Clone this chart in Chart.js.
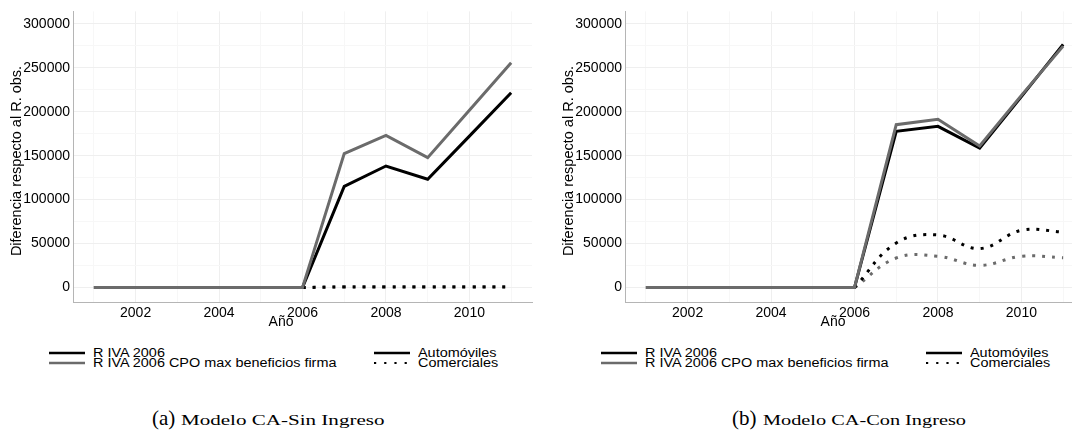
<!DOCTYPE html>
<html>
<head>
<meta charset="utf-8">
<script src="https://cdn.jsdelivr.net/npm/chart.js@4.4.1/dist/chart.umd.min.js"></script>
<style>
  html, body { margin: 0; padding: 0; background: #fff; }
  body { width: 1072px; height: 434px; overflow: hidden; position: relative; font-family: 'Liberation Sans', Arial, sans-serif; }
  .panel { position: absolute; top: 0; width: 540px; height: 330px; }
  .leg { position: absolute; font-size: 12px; line-height: 12px; white-space: nowrap; transform-origin: 0 0; color: #000; }
  .cap { position: absolute; top: 406px; white-space: nowrap; font-family: 'Liberation Serif', 'Times New Roman', serif; line-height: 24px; color: #000; }
  .cap .big { font-size: 21px; }
  .cap .small { display: inline-block; font-size: 14px; transform-origin: 0 50%; margin-left: 6px; }
  svg.key { position: absolute; overflow: visible; }
</style>
</head>
<body>
<div class="panel" id="panelA" style="left:0px"><canvas id="chartA" width="540" height="330"></canvas></div>
<div class="panel" id="panelB" style="left:552px"><canvas id="chartB" width="540" height="330"></canvas></div>

<script>
// ─── Data ─────────────────────────────────────────────────

const years = [2001, 2002, 2003, 2004, 2005, 2006, 2007, 2008, 2009, 2010, 2011];
const xTickLabels = [2002, 2004, 2006, 2008, 2010];
const yTickLabels = [0, 50000, 100000, 150000, 200000, 250000, 300000];

const seriesNames = ['R IVA 2006', 'R IVA 2006 CPO max beneficios firma'];
const typeNames = ['Automóviles', 'Comerciales'];

// (a) Modelo CA-Sin Ingreso
const aAutoRiva = [0, 0, 0, 0, 0, 0, 115100, 138200, 123100, 172200, 221600];
const aAutoCpo  = [0, 0, 0, 0, 0, 0, 152300, 173100, 147700, 201500, 255700];
const aComRiva  = [null, null, null, null, null, 0, 700, 700, 700, 700, 700];
const aComCpo   = [null, null, null, null, null, 0, 900, 900, 900, 900, 900];

// (b) Modelo CA-Con Ingreso
const bAutoRiva = [0, 0, 0, 0, 0, 0, 177600, 183300, 158600, 217100, 276500];
const bAutoCpo  = [0, 0, 0, 0, 0, 0, 185200, 191300, 160900, 218500, 274500];
const bComRiva  = [null, null, null, null, null, 0, 50700, 59800, 44300, 65100, 63200];
const bComCpo   = [null, null, null, null, null, 0, 33600, 35600, 25300, 35600, 34000];

const captions = [['(a)', 'Modelo CA-Sin Ingreso'], ['(b)', 'Modelo CA-Con Ingreso']];

// grid lines: every labelled tick plus the minor line half way between
const yGrid = yTickLabels.flatMap((v, i) => i ? [v - 25000, v] : [v]);
const xGrid = years;

// ─── Style ────────────────────────────────────────────────

const BLACK = '#000000';
const GRAY = '#6b6b6b';
const FONT = "'Liberation Sans', Arial, sans-serif";

const axisTitles = {
  id: 'axisTitles',
  afterDraw(chart) {
    const ctx = chart.ctx;
    ctx.save();
    ctx.fillStyle = '#000';
    ctx.font = '14px ' + FONT;
    ctx.textAlign = 'center';
    ctx.textBaseline = 'middle';
    ctx.fillText('Año', 281, 322);
    ctx.translate(17, 161);
    ctx.rotate(-Math.PI / 2);
    ctx.font = '14.5px ' + FONT;
    ctx.fillText('Diferencia respecto al R. obs.', 0, 0);
    ctx.restore();
  }
};

function pts(vals) {
  return years.map((yr, i) => ({ x: yr, y: vals[i] }));
}

function line(vals, color, dotted, order) {
  return {
    data: pts(vals),
    borderColor: color,
    borderWidth: 3,
    borderDash: dotted ? [3, 7] : [],
    borderCapStyle: 'butt',
    borderJoinStyle: 'miter',
    tension: dotted ? 0.4 : 0,
    pointRadius: 0,
    spanGaps: false,
    order
  };
}

function makeChart(id, autoRiva, autoCpo, comRiva, comCpo) {
  return new Chart(document.getElementById(id), {
    type: 'line',
    data: {
      datasets: [
        line(autoCpo, GRAY, false, 0),
        line(autoRiva, BLACK, false, 1),
        line(comRiva, BLACK, true, 2),
        line(comCpo, GRAY, true, 3)
      ]
    },
    options: {
      responsive: false,
      animation: false,
      events: [],
      layout: { padding: { top: 11, right: 8, left: 0, bottom: 0 } },
      plugins: { legend: { display: false }, tooltip: { enabled: false } },
      scales: {
        x: {
          type: 'linear',
          min: 2000.5,
          max: 2011.5,
          afterBuildTicks: s => { s.ticks = xGrid.map(v => ({ value: v })); },
          afterFit: s => { s.height = 28; },
          border: { display: true, color: '#b5b5b5', width: 1 },
          grid: {
            drawTicks: false,
            color: c => xTickLabels.includes(c.tick && c.tick.value) ? '#efefef' : '#f7f7f7'
          },
          ticks: {
            autoSkip: false,
            maxRotation: 0,
            padding: 3,
            color: '#000',
            font: { family: FONT, size: 14 },
            callback: v => xTickLabels.includes(v) ? String(v) : ''
          }
        },
        y: {
          min: -16400,
          max: 314000,
          afterBuildTicks: s => { s.ticks = yGrid.map(v => ({ value: v })); },
          afterFit: s => { s.width = 73; },
          border: { display: true, color: '#b5b5b5', width: 1 },
          grid: {
            drawTicks: false,
            color: c => yTickLabels.includes(c.tick && c.tick.value) ? '#efefef' : '#f7f7f7'
          },
          ticks: {
            autoSkip: false,
            padding: 3,
            color: '#000',
            font: { family: FONT, size: 14 },
            callback: v => yTickLabels.includes(v) ? String(v) : ''
          }
        }
      }
    },
    plugins: [axisTitles]
  });
}

makeChart('chartA', aAutoRiva, aAutoCpo, aComRiva, aComCpo);
makeChart('chartB', bAutoRiva, bAutoCpo, bComRiva, bComCpo);

// ─── Legends & captions ──────────────────────────────────

function key(x, y, color, dotted) {
  const ns = 'http://www.w3.org/2000/svg';
  const svg = document.createElementNS(ns, 'svg');
  svg.setAttribute('class', 'key');
  svg.setAttribute('width', 36);
  svg.setAttribute('height', 6);
  svg.style.left = x + 'px';
  svg.style.top = (y - 3) + 'px';
  const l = document.createElementNS(ns, 'line');
  l.setAttribute('x1', 0); l.setAttribute('x2', 36);
  l.setAttribute('y1', 3); l.setAttribute('y2', 3);
  l.setAttribute('stroke', color);
  l.setAttribute('stroke-width', dotted ? 2.2 : 2.5);
  if (dotted) l.setAttribute('stroke-dasharray', '2.2 8');
  svg.appendChild(l);
  document.body.appendChild(svg);
}

function text(x, top, str) {
  const s = document.createElement('span');
  s.className = 'leg';
  s.textContent = str;
  s.style.left = x + 'px';
  s.style.top = top + 'px';
  document.body.appendChild(s);
  return s;
}

const legSpans = [];
[0, 552].forEach(off => {
  key(off + 49, 352.5, BLACK, false);
  key(off + 49, 363, GRAY, false);
  legSpans.push(text(off + 92.5, 346.5, seriesNames[0]));
  legSpans.push(text(off + 92.5, 356.5, seriesNames[1]));
  key(off + 374, 352.5, BLACK, false);
  key(off + 374, 363, BLACK, true);
  legSpans.push(text(off + 417.5, 346.5, typeNames[0]));
  legSpans.push(text(off + 417.5, 356.5, typeNames[1]));
});
const legScale = 244 / legSpans[1].offsetWidth;
legSpans.forEach(s => { s.style.transform = `scaleX(${legScale})`; });

[[152, 0], [732, 1]].forEach(([x, i]) => {
  const d = document.createElement('div');
  d.className = 'cap';
  d.style.left = x + 'px';
  d.innerHTML = `<span class="big">${captions[i][0]}</span><span class="small">${captions[i][1]}</span>`;
  document.body.appendChild(d);
  const sm = d.querySelector('.small');
  sm.style.transform = `scaleX(${203 / sm.offsetWidth})`;
});
</script>
</body>
</html>
